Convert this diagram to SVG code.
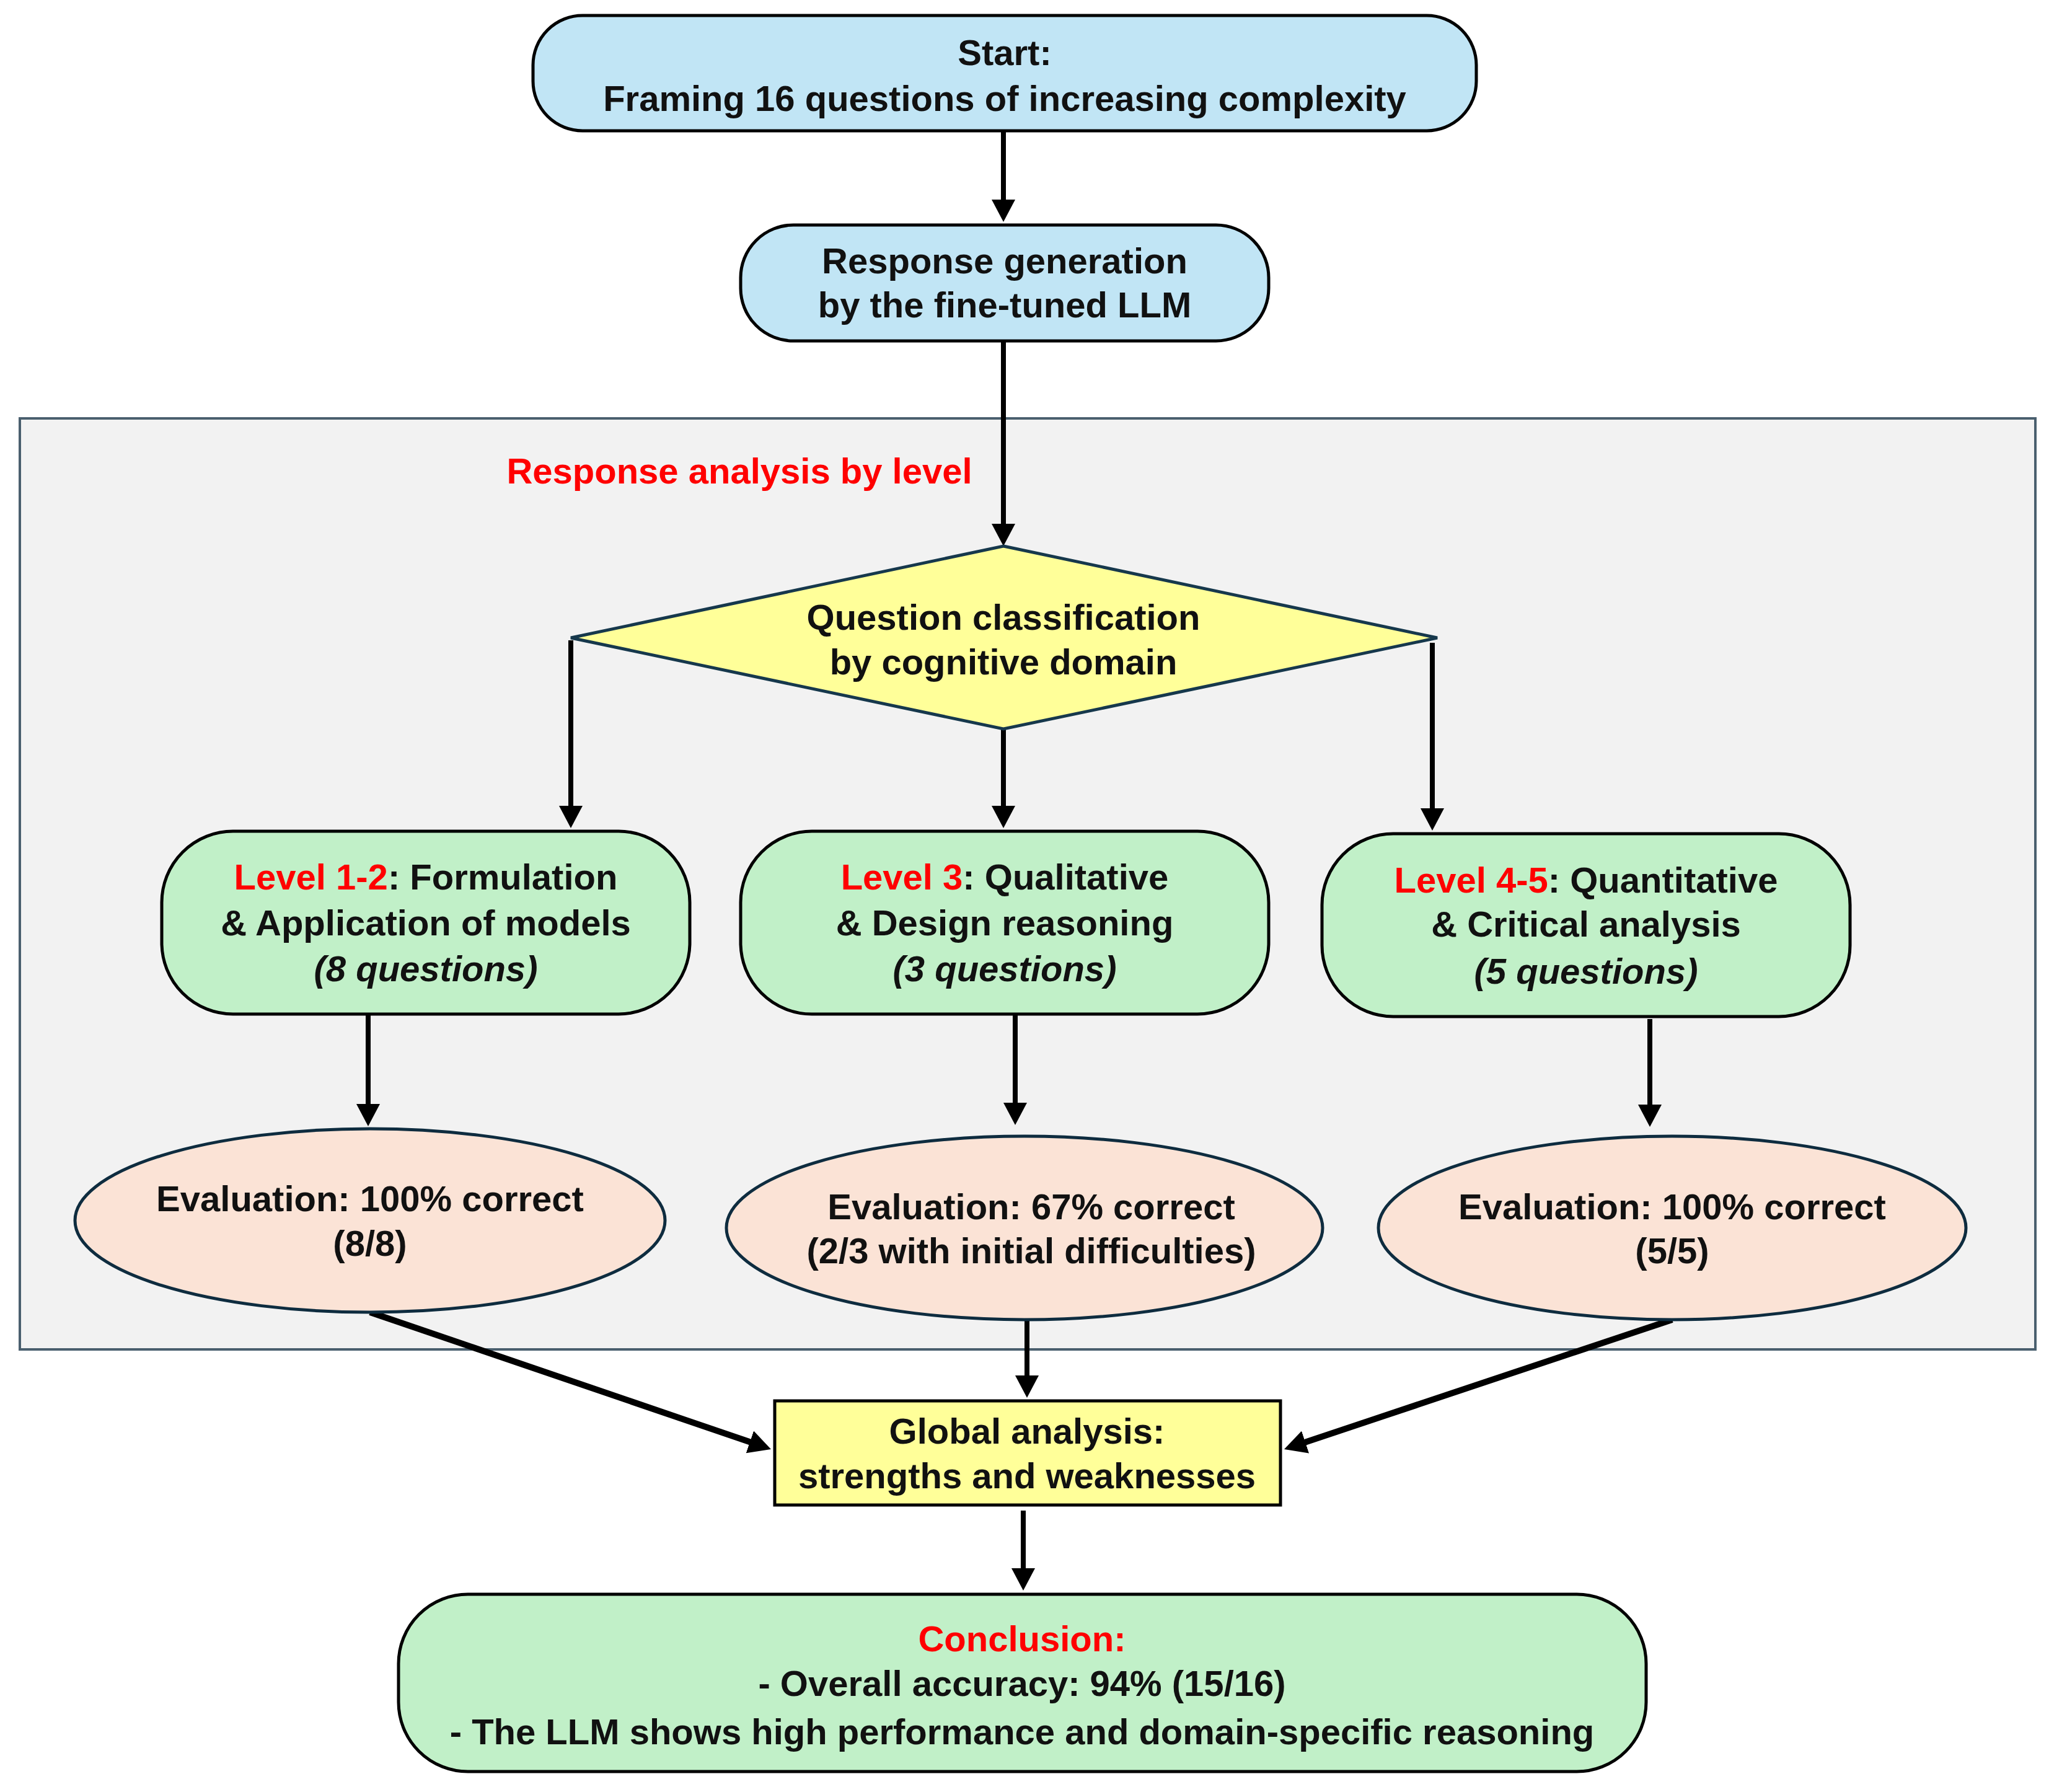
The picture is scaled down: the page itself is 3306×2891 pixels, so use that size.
<svg xmlns="http://www.w3.org/2000/svg" width="3306" height="2891" viewBox="0 0 3306 2891">
  <style>
    text { font-family: "Liberation Sans", Arial, sans-serif; font-weight: bold; font-size: 58px; fill: #111111; text-anchor: middle; }
    .red { fill: #FF0000; }
    .it { font-style: italic; }
    .blue { fill: #C1E5F5; stroke: #000000; stroke-width: 5; }
    .green { fill: #C1F0C8; stroke: #000000; stroke-width: 5; }
    .peach { fill: #FBE3D6; stroke: #0E2C3F; stroke-width: 5; }
    .yellow { fill: #FFFF99; stroke: #000000; stroke-width: 5; }
    .diamond { fill: #FFFF99; stroke: #16384C; stroke-width: 5; }
    .panel { fill: #F2F2F2; stroke: #4A5F6E; stroke-width: 4; }
    .conn { stroke: #000000; stroke-width: 8; fill: none; marker-end: url(#arrow); }
    .conn-thick { stroke: #000000; stroke-width: 10; fill: none; marker-end: url(#arrow); }
  </style>
  <defs>
    <marker id="arrow" markerUnits="userSpaceOnUse" markerWidth="40" markerHeight="40" refX="24" refY="19" orient="auto">
      <path d="M0,0 L36,19 L0,38 Z" fill="#000000"/>
    </marker>
  </defs>

  <rect width="3306" height="2891" fill="#FFFFFF"/>

  <g id="panel">
    <rect class="panel" x="32" y="675" width="3252" height="1502"/>
    <text class="red" x="1193" y="780">Response analysis by level</text>
  </g>

  <g id="connectors">
    <line class="conn" x1="1619" y1="211" x2="1619" y2="346"/>
    <line class="conn" x1="1619" y1="550" x2="1619" y2="869"/>
    <line class="conn" x1="921" y1="1033" x2="921" y2="1324"/>
    <line class="conn" x1="1619" y1="1176" x2="1619" y2="1324"/>
    <line class="conn" x1="2311" y1="1037" x2="2311" y2="1328"/>
    <line class="conn" x1="594" y1="1636" x2="594" y2="1805"/>
    <line class="conn" x1="1638" y1="1636" x2="1638" y2="1803"/>
    <line class="conn" x1="2662" y1="1644" x2="2662" y2="1806"/>
    <line class="conn-thick" x1="597" y1="2117" x2="1232.6" y2="2334.1"/>
    <line class="conn" x1="1657" y1="2129" x2="1657" y2="2243"/>
    <line class="conn-thick" x1="2698" y1="2129" x2="2083.4" y2="2334.2"/>
    <line class="conn" x1="1651" y1="2437" x2="1651" y2="2554"/>
  </g>

  <g id="start">
    <rect class="blue" x="860" y="25" width="1522" height="186" rx="80" ry="80"/>
    <text x="1621" y="105">Start:</text>
    <text x="1621" y="179">Framing 16 questions of increasing complexity</text>
  </g>

  <g id="response-generation">
    <rect class="blue" x="1195" y="363" width="852" height="187" rx="85" ry="85"/>
    <text x="1621" y="441">Response generation</text>
    <text x="1621" y="512">by the fine-tuned LLM</text>
  </g>

  <g id="classification">
    <polygon class="diamond" points="1619,881 2319,1029 1619,1176 921,1029"/>
    <text x="1619" y="1016">Question classification</text>
    <text x="1619" y="1088">by cognitive domain</text>
  </g>

  <g id="level-1-2">
    <rect class="green" x="261" y="1341" width="852" height="295" rx="115" ry="115"/>
    <text x="687" y="1435"><tspan class="red">Level 1-2</tspan>: Formulation</text>
    <text x="687" y="1509">&amp; Application of models</text>
    <text class="it" x="687" y="1583">(8 questions)</text>
  </g>

  <g id="level-3">
    <rect class="green" x="1195" y="1341" width="852" height="295" rx="115" ry="115"/>
    <text x="1621" y="1435"><tspan class="red">Level 3</tspan>: Qualitative</text>
    <text x="1621" y="1509">&amp; Design reasoning</text>
    <text class="it" x="1621" y="1583">(3 questions)</text>
  </g>

  <g id="level-4-5">
    <rect class="green" x="2133" y="1345" width="852" height="295" rx="115" ry="115"/>
    <text x="2559" y="1440"><tspan class="red">Level 4-5</tspan>: Quantitative</text>
    <text x="2559" y="1511">&amp; Critical analysis</text>
    <text class="it" x="2559" y="1587">(5 questions)</text>
  </g>

  <g id="evaluation-1">
    <ellipse class="peach" cx="597" cy="1969" rx="476" ry="148"/>
    <text x="597" y="1954">Evaluation: 100% correct</text>
    <text x="597" y="2026">(8/8)</text>
  </g>

  <g id="evaluation-2">
    <ellipse class="peach" cx="1653" cy="1981" rx="481" ry="148"/>
    <text x="1664" y="1967">Evaluation: 67% correct</text>
    <text x="1664" y="2038">(2/3 with initial difficulties)</text>
  </g>

  <g id="evaluation-3">
    <ellipse class="peach" cx="2698" cy="1981" rx="474" ry="148"/>
    <text x="2698" y="1967">Evaluation: 100% correct</text>
    <text x="2698" y="2038">(5/5)</text>
  </g>

  <g id="global-analysis">
    <rect class="yellow" x="1250" y="2260" width="816" height="168"/>
    <text x="1657" y="2329">Global analysis:</text>
    <text x="1657" y="2401">strengths and weaknesses</text>
  </g>

  <g id="conclusion">
    <rect class="green" x="643" y="2572" width="2013" height="286" rx="112" ry="112"/>
    <text class="red" x="1649" y="2664">Conclusion:</text>
    <text x="1649" y="2736">- Overall accuracy: 94% (15/16)</text>
    <text x="1649" y="2814">- The LLM shows high performance and domain-specific reasoning</text>
  </g>
</svg>
